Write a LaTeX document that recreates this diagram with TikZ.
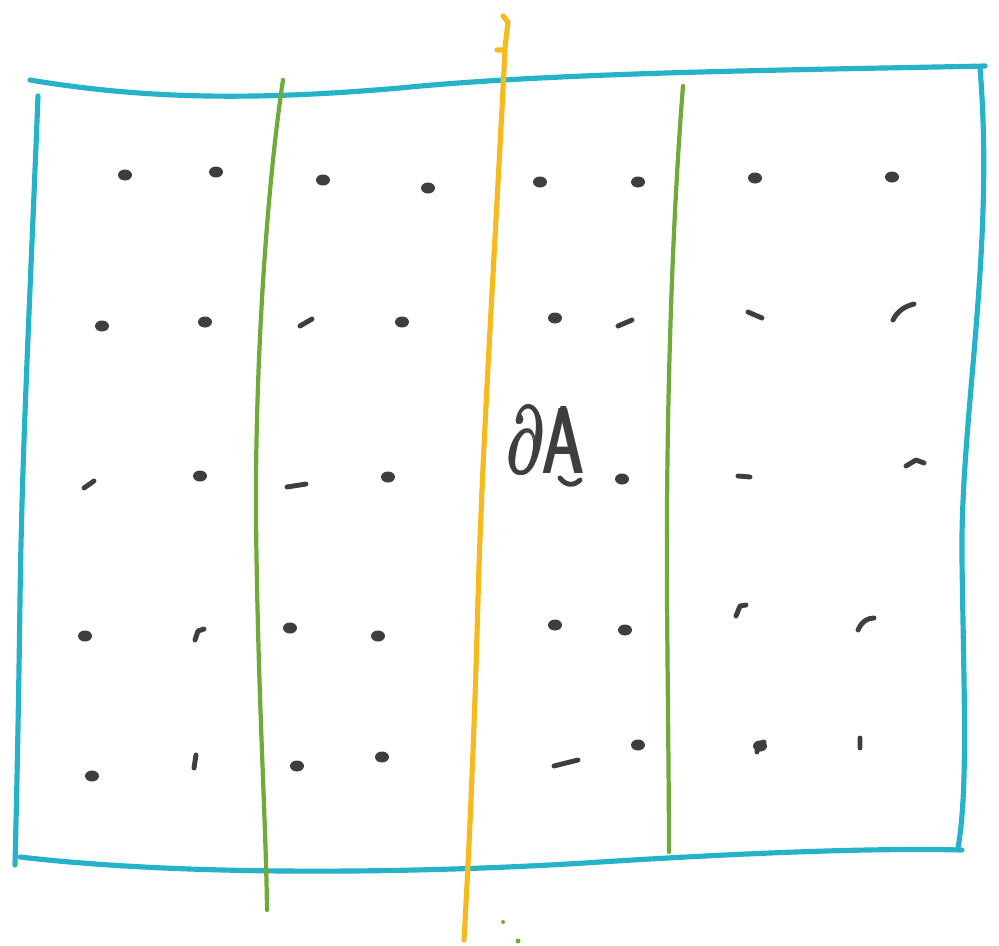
\documentclass[tikz,border=0pt]{standalone}
\usepackage{tikz}
\usepackage{amsmath}
\definecolor{sketchblue}{RGB}{38,178,200}
\definecolor{sketchgreen}{RGB}{112,170,58}
\definecolor{sketchyellow}{RGB}{246,186,30}
\definecolor{sketchgray}{RGB}{62,62,62}
\begin{document}
\begin{tikzpicture}[x=0.03cm, y=-0.03cm, line cap=round, line join=round]
      \useasboundingbox (0,0) rectangle (999,946);
      \draw[sketchblue, line width=4.4pt] (30,80) .. controls (150,100) and (260,100) .. (400,88) .. controls (560,72) and (800,70) .. (985,66);
      \draw[sketchblue, line width=4.4pt] (38,96) .. controls (30,300) and (22,450) .. (20,600) .. controls (18,750) and (16,820) .. (15,865);
      \draw[sketchblue, line width=4.4pt] (20,857) .. controls (200,878) and (450,872) .. (600,862) .. controls (760,852) and (880,848) .. (962,850);
      \draw[sketchblue, line width=4.4pt] (980,68) .. controls (995,250) and (960,420) .. (962,560) .. controls (964,700) and (968,790) .. (958,848);
      \draw[sketchgreen, line width=3.6pt] (283,80) .. controls (265,200) and (255,380) .. (256,520) .. controls (258,700) and (266,820) .. (267,910);
      \draw[sketchgreen, line width=3.6pt] (683,86) .. controls (670,250) and (666,450) .. (667,600) .. controls (668,720) and (669,800) .. (669,852);
      \draw[sketchyellow, line width=4.4pt] (503,16) -- (508,22) -- (505,48) (497,50) -- (505,50) .. controls (495,250) and (482,450) .. (478,600) .. controls (474,750) and (468,870) .. (464,940);
      \fill[sketchgreen] (503,922) circle (2) (518,941) circle (2.5);
      \foreach \px/\py in {125/175, 216/172, 323/180, 428/188, 540/182, 638/182, 755/178, 892/177,
                          102/326, 205/322, 402/322, 555/318, 85/636,
                          200/476, 388/477, 622/479, 290/628, 378/636, 555/625, 625/630,
                          92/776, 297/766, 382/757, 638/745, 760/746}
        \fill[sketchgray] (\px,\py) ellipse (7 and 5.5);
      \draw[sketchgray, line width=4.2pt] (300,326) -- (312,319) (618,326) -- (632,320) (748,312) -- (762,318)
            (893,320) .. controls (898,310) and (906,306) .. (914,304)
            (84,488) -- (94,481) (287,487) -- (306,484) (738,476) -- (750,477) (906,466) -- (916,460) -- (924,463)
            (195,640) -- (198,631) -- (204,629) (736,616) -- (740,606) -- (746,605) (858,630) .. controls (862,621) and (868,618) .. (874,618)
            (194,768) -- (196,755) (554,766) -- (578,760) (757,752) -- (758,744) -- (764,742) (860,748) -- (860,738)
            (560,478) .. controls (566,486) and (574,486) .. (580,480);
      \node[sketchgray, inner sep=0pt, xscale=5.2, yscale=8] (dA) at (547,440) {$\pmb{\partial}\pmb{\mathsf{A}}$};
    \end{tikzpicture}
\end{document}
